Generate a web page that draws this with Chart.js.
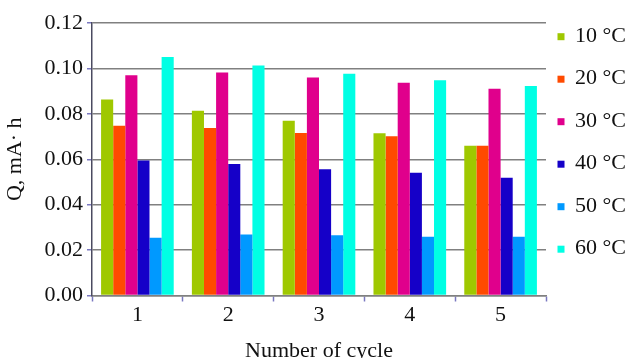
<!DOCTYPE html>
<html>
<head>
<meta charset="utf-8">
<script src="https://cdn.jsdelivr.net/npm/chart.js@4/dist/chart.umd.min.js"></script>
<style>
  html, body { margin: 0; padding: 0; background: #ffffff; }
  #wrap { width: 632px; height: 358px; position: relative; }
</style>
</head>
<body>
<div id="wrap"><canvas id="c" width="632" height="358"></canvas></div>
<script>
const cycles = ['1', '2', '3', '4', '5'];
const seriesLabels = ['10 °C', '20 °C', '30 °C', '40 °C', '50 °C', '60 °C'];
const q10 = [0.0863, 0.0814, 0.0770, 0.0715, 0.0660];
const q20 = [0.0747, 0.0738, 0.0716, 0.0701, 0.0660];
const q30 = [0.0970, 0.0982, 0.0960, 0.0937, 0.0911];
const q40 = [0.0594, 0.0579, 0.0556, 0.0541, 0.0519];
const q50 = [0.0254, 0.0269, 0.0265, 0.0259, 0.0259];
const q60 = [0.1050, 0.1013, 0.0976, 0.0948, 0.0923];
const yTicks = [0.00, 0.02, 0.04, 0.06, 0.08, 0.10, 0.12];
const colors = ['#9fc800', '#ff4a00', '#e0008c', '#1500c8', '#0099ff', '#00ffe4'];

const seriesValues = [q10, q20, q30, q40, q50, q60];
const FONT = 'Liberation Serif, Times New Roman, serif';

const sideLegend = {
  id: 'sideLegend',
  afterDraw(chart) {
    const ctx = chart.ctx;
    ctx.save();
    ctx.font = '22px ' + FONT;
    ctx.textBaseline = 'alphabetic';
    ctx.textAlign = 'left';
    chart.data.datasets.forEach((ds, i) => {
      const cy = 36.7 + i * 42.5;
      ctx.fillStyle = ds.backgroundColor;
      ctx.fillRect(557.5, cy - 3.5, 7, 7);
      ctx.fillStyle = '#111111';
      ctx.fillText(ds.label, 575, cy + 5);
    });
    ctx.restore();
  }
};

new Chart(document.getElementById('c'), {
  type: 'bar',
  data: {
    labels: cycles,
    datasets: seriesLabels.map((lab, i) => ({
      label: lab,
      data: seriesValues[i],
      backgroundColor: colors[i],
      borderWidth: 0,
      categoryPercentage: 0.8,
      barPercentage: 1.0
    }))
  },
  options: {
    responsive: false,
    animation: false,
    devicePixelRatio: 1,
    layout: { padding: { top: 23, right: 86, bottom: 0, left: 0 } },
    plugins: {
      legend: { display: false },
      tooltip: { enabled: false }
    },
    scales: {
      x: {
        offset: true,
        grid: {
          display: true,
          drawOnChartArea: false,
          drawTicks: true,
          tickLength: 6,
          tickColor: '#7a78c0',
          tickWidth: 1.5
        },
        border: { display: true, color: '#808080', width: 1.5 },
        ticks: {
          color: '#111111',
          padding: 1,
          font: { family: FONT, size: 22 }
        },
        title: {
          display: true,
          text: 'Number of cycle',
          color: '#111111',
          font: { family: FONT, size: 22 },
          padding: { top: 0, bottom: -6 }
        },
        afterFit(scale) { scale.height = 62.5; }
      },
      y: {
        min: 0,
        max: 0.12,
        afterBuildTicks(scale) { scale.ticks = yTicks.map(v => ({ value: v })); },
        grid: {
          color: '#808080',
          lineWidth: 1.5,
          drawTicks: true,
          tickLength: 5,
          tickColor: '#7a78c0',
          tickWidth: 1.5
        },
        border: { display: true, color: '#4a4a60', width: 1.5 },
        ticks: {
          color: '#111111',
          padding: 4,
          font: { family: FONT, size: 22 },
          callback: (v) => Number(v).toFixed(2)
        },
        title: {
          display: true,
          text: 'Q, mA· h',
          color: '#111111',
          font: { family: FONT, size: 22 },
          padding: { top: 2, bottom: 0 }
        },
        afterFit(scale) { scale.width = 92; }
      }
    }
  },
  plugins: [sideLegend]
});
</script>
</body>
</html>
